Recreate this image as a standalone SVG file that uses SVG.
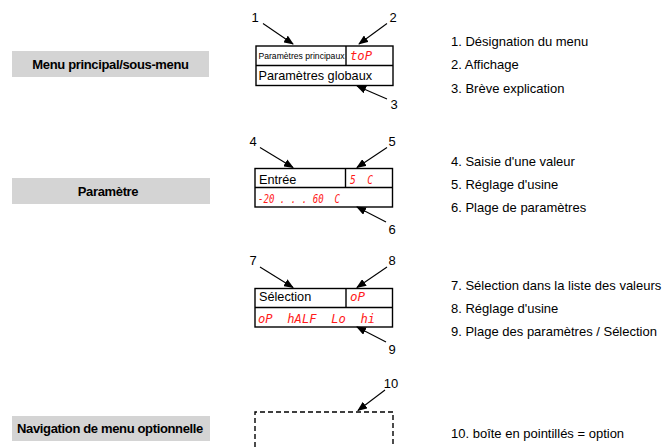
<svg xmlns="http://www.w3.org/2000/svg" width="668" height="447" viewBox="0 0 668 447">
<style>
  .cat { fill: #d4d4d4; }
  .cattxt { font-family: "Liberation Sans", Arial, sans-serif; font-size: 13px; font-weight: bold; fill: #000; text-anchor: middle; letter-spacing: -0.35px; }
  .box { fill: #fff; stroke: #000; stroke-width: 1.4; }
  .dbox { fill: none; stroke: #000; stroke-width: 1.4; stroke-dasharray: 5 3; }
  .txt { font-family: "Liberation Sans", Arial, sans-serif; font-size: 12.7px; fill: #000; }
  .small { font-family: "Liberation Sans", Arial, sans-serif; font-size: 8.6px; fill: #000; }
  .seg { font-family: "DejaVu Sans Mono", monospace; font-size: 12px; font-style: italic; fill: #ff1a1a; }
  .num { font-family: "Liberation Sans", Arial, sans-serif; font-size: 13px; fill: #000; text-anchor: middle; }
  .desc { font-family: "Liberation Sans", Arial, sans-serif; font-size: 13px; fill: #000; }
  .conn line { stroke: #000; stroke-width: 1.1; marker-end: url(#ah); }
</style>
<defs>
  <marker id="ah" markerWidth="10" markerHeight="8" refX="9" refY="4" orient="auto" markerUnits="userSpaceOnUse">
    <path d="M0,0 L10,4 L0,8 Z" fill="#000"/>
  </marker>
</defs>
<rect width="668" height="447" fill="#fff"/>

<g id="cat-menu">
  <rect class="cat" x="12" y="51" width="197" height="26"/>
  <text class="cattxt" x="110.5" y="68.5">Menu principal/sous-menu</text>
</g>
<g id="cat-param">
  <rect class="cat" x="12" y="178" width="198" height="26"/>
  <text class="cattxt" x="108" y="195.5">Paramètre</text>
</g>
<g id="cat-nav">
  <rect class="cat" x="12" y="416" width="198" height="25"/>
  <text class="cattxt" x="110" y="433">Navigation de menu optionnelle</text>
</g>

<g id="node-menu">
  <rect class="box" x="256" y="46" width="137" height="39.5"/>
  <line x1="256" y1="65.5" x2="393" y2="65.5" stroke="#000" stroke-width="1.4"/>
  <line x1="346" y1="46" x2="346" y2="65.5" stroke="#000" stroke-width="1.4"/>
  <text class="small" x="258.5" y="58.5">Paramètres principaux</text>
  <text class="seg" x="350" y="59.5" textLength="22" lengthAdjust="spacingAndGlyphs">toP</text>
  <text class="txt" x="258.5" y="80">Paramètres globaux</text>
</g>

<g id="node-param">
  <rect class="box" x="255" y="168.5" width="137.5" height="38.5"/>
  <line x1="255" y1="187.5" x2="392.5" y2="187.5" stroke="#000" stroke-width="1.4"/>
  <line x1="345.5" y1="168.5" x2="345.5" y2="187.5" stroke="#000" stroke-width="1.4"/>
  <text class="txt" x="259" y="184">Entrée</text>
  <text class="seg" x="350" y="184" xml:space="preserve" textLength="23" lengthAdjust="spacingAndGlyphs">5  C</text>
  <text class="seg" x="258" y="202.5" xml:space="preserve" textLength="82" lengthAdjust="spacingAndGlyphs">-20 . . . 60  C</text>
</g>

<g id="node-select">
  <rect class="box" x="255" y="288.5" width="137.5" height="38.5"/>
  <line x1="255" y1="307.5" x2="392.5" y2="307.5" stroke="#000" stroke-width="1.4"/>
  <line x1="346" y1="288.5" x2="346" y2="307.5" stroke="#000" stroke-width="1.4"/>
  <text class="txt" x="259" y="301">Sélection</text>
  <text class="seg" x="350" y="300.5" textLength="15" lengthAdjust="spacingAndGlyphs">oP</text>
  <text class="seg" x="258" y="322.5" xml:space="preserve" textLength="117" lengthAdjust="spacingAndGlyphs">oP  hALF  Lo  hi</text>
</g>

<g id="node-option">
  <path class="dbox" d="M255,447 L255,412 L393,412 L393,447"/>
</g>

<g id="connectors" class="conn">
  <line x1="263" y1="23.5" x2="293" y2="44"/>
  <line x1="387" y1="23.5" x2="359" y2="44"/>
  <line x1="387" y1="99" x2="357" y2="86"/>
  <line x1="260" y1="147.5" x2="293" y2="167.5"/>
  <line x1="387" y1="147.5" x2="357" y2="167.5"/>
  <line x1="386" y1="222" x2="357" y2="207"/>
  <line x1="260" y1="267" x2="293" y2="287.5"/>
  <line x1="387" y1="267" x2="357" y2="287.5"/>
  <line x1="386" y1="342" x2="357" y2="327"/>
  <line x1="385" y1="390" x2="358" y2="410.5"/>
</g>

<g id="numbers">
  <text class="num" x="255" y="21.5">1</text>
  <text class="num" x="393" y="21.5">2</text>
  <text class="num" x="394" y="108.5">3</text>
  <text class="num" x="253" y="145.5">4</text>
  <text class="num" x="392" y="145.5">5</text>
  <text class="num" x="392" y="233.5">6</text>
  <text class="num" x="253" y="264.5">7</text>
  <text class="num" x="392" y="264.5">8</text>
  <text class="num" x="392" y="353.5">9</text>
  <text class="num" x="391" y="387.5">10</text>
</g>

<g id="legend">
  <text class="desc" x="451" y="45.5">1. Désignation du menu</text>
  <text class="desc" x="451" y="69">2. Affichage</text>
  <text class="desc" x="451" y="92.5">3. Brève explication</text>
  <text class="desc" x="451" y="165.5">4. Saisie d'une valeur</text>
  <text class="desc" x="451" y="189">5. Réglage d'usine</text>
  <text class="desc" x="451" y="212">6. Plage de paramètres</text>
  <text class="desc" x="451" y="289.5">7. Sélection dans la liste des valeurs</text>
  <text class="desc" x="451" y="312.5">8. Réglage d'usine</text>
  <text class="desc" x="451" y="335.5">9. Plage des paramètres / Sélection</text>
  <text class="desc" x="451" y="437.5">10. boîte en pointillés = option</text>
</g>
</svg>
